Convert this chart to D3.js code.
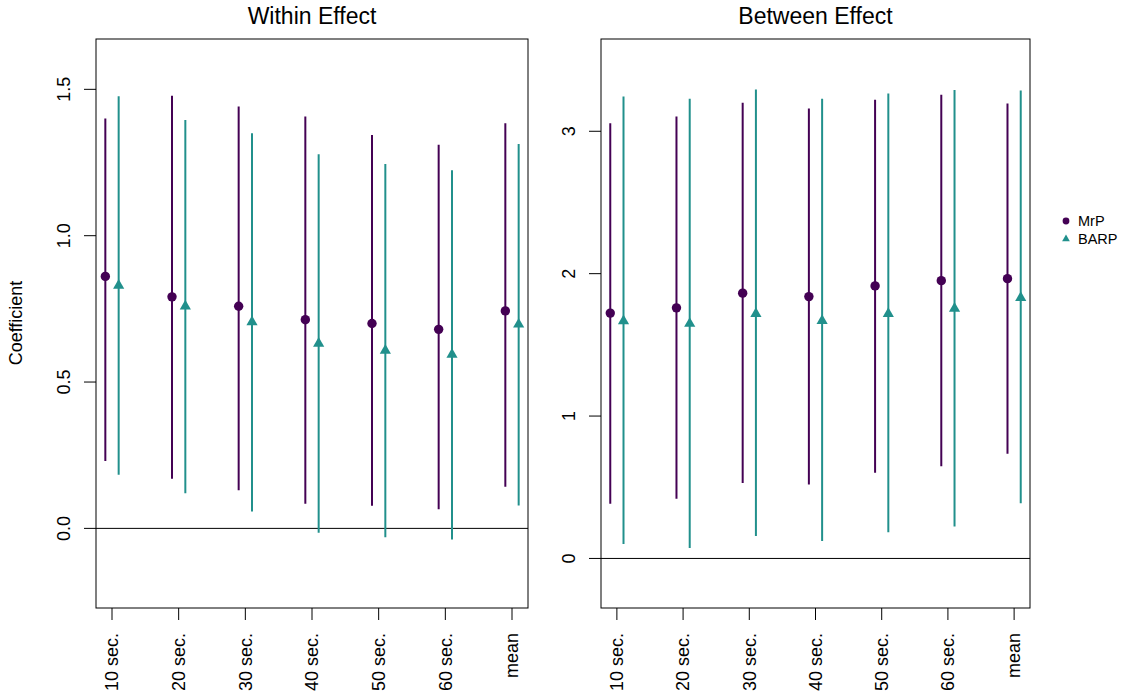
<!DOCTYPE html>
<html>
<head>
<meta charset="UTF-8">
<style>
  body { margin: 0; background: #fff; }
  text { font-family: "Liberation Sans", Arial, Helvetica, sans-serif; fill: #000; }
</style>
</head>
<body>
<svg width="1124" height="697"></svg>
<script src="https://cdn.jsdelivr.net/npm/d3@7"></script>
<script>

var categories = ["10 sec.", "20 sec.", "30 sec.", "40 sec.", "50 sec.", "60 sec.", "mean"];
var seriesNames = ["MrP", "BARP"];
var colors = ["#440154", "#21908C"];

// Within effect
var withinMrP     = [0.861, 0.791, 0.759, 0.713, 0.700, 0.680, 0.743];
var withinMrPLo   = [0.230, 0.170, 0.130, 0.084, 0.077, 0.065, 0.142];
var withinMrPHi   = [1.400, 1.478, 1.441, 1.407, 1.344, 1.311, 1.384];
var withinBARP    = [0.830, 0.759, 0.705, 0.632, 0.608, 0.594, 0.697];
var withinBARPLo  = [0.183, 0.120, 0.058, -0.015, -0.030, -0.038, 0.078];
var withinBARPHi  = [1.476, 1.395, 1.350, 1.278, 1.245, 1.224, 1.313];
var withinTicks   = [0, 0.5, 1, 1.5];

// Between effect
var betweenMrP    = [1.723, 1.760, 1.863, 1.839, 1.914, 1.951, 1.965];
var betweenMrPLo  = [0.385, 0.420, 0.529, 0.520, 0.602, 0.648, 0.735];
var betweenMrPHi  = [3.057, 3.104, 3.200, 3.160, 3.221, 3.256, 3.195];
var betweenBARP   = [1.668, 1.649, 1.719, 1.670, 1.719, 1.755, 1.831];
var betweenBARPLo = [0.102, 0.074, 0.158, 0.123, 0.184, 0.224, 0.387];
var betweenBARPHi = [3.244, 3.228, 3.293, 3.228, 3.265, 3.289, 3.286];
var betweenTicks  = [0, 1, 2, 3];

var svg = d3.select("svg");

function drawPanel(p) {
  var x = d3.scaleLinear().domain([0.76, 7.24]).range([p.left, p.right]);
  var y = d3.scaleLinear().domain(p.ylim).range([p.bottom, p.top]);
  var g = svg.append("g");

  // zero line
  g.append("line")
    .attr("x1", p.left).attr("x2", p.right)
    .attr("y1", y(0)).attr("y2", y(0))
    .attr("stroke", "#000").attr("stroke-width", 1);

  var series = [
    { est: p.mrp, lo: p.mrpLo, hi: p.mrpHi, off: -0.1, color: colors[0], shape: "circle" },
    { est: p.barp, lo: p.barpLo, hi: p.barpHi, off: 0.1, color: colors[1], shape: "triangle" }
  ];

  series.forEach(function(s) {
    var rows = categories.map(function(c, i) {
      return { i: i + 1, est: s.est[i], lo: s.lo[i], hi: s.hi[i] };
    });
    g.selectAll(null).data(rows).enter().append("line")
      .attr("x1", function(d) { return x(d.i + s.off); })
      .attr("x2", function(d) { return x(d.i + s.off); })
      .attr("y1", function(d) { return y(d.lo); })
      .attr("y2", function(d) { return y(d.hi); })
      .attr("stroke", s.color).attr("stroke-width", 2);
    if (s.shape == "circle") {
      g.selectAll(null).data(rows).enter().append("circle")
        .attr("cx", function(d) { return x(d.i + s.off); })
        .attr("cy", function(d) { return y(d.est); })
        .attr("r", 4.7)
        .attr("fill", s.color);
    } else {
      g.selectAll(null).data(rows).enter().append("path")
        .attr("transform", function(d) { return "translate(" + x(d.i + s.off) + "," + y(d.est) + ")"; })
        .attr("d", d3.symbol(d3.symbolTriangle, 54)())
        .attr("fill", s.color);
    }
  });

  // box
  g.append("rect")
    .attr("x", p.left).attr("y", p.top)
    .attr("width", p.right - p.left).attr("height", p.bottom - p.top)
    .attr("fill", "none").attr("stroke", "#000").attr("stroke-width", 1);

  // x axis
  var xa = g.append("g");
  xa.selectAll(null).data(categories).enter().append("line")
    .attr("x1", function(d, i) { return x(i + 1); })
    .attr("x2", function(d, i) { return x(i + 1); })
    .attr("y1", p.bottom).attr("y2", p.bottom + 12)
    .attr("stroke", "#000");
  xa.selectAll(null).data(categories).enter().append("text")
    .attr("transform", function(d, i) { return "translate(" + x(i + 1) + "," + (p.bottom + 25) + ") rotate(-90)"; })
    .attr("text-anchor", "end")
    .attr("dy", "0.35em")
    .style("font-size", "18px")
    .text(function(d) { return d; });

  // y axis
  var ya = g.append("g");
  ya.selectAll(null).data(p.ticks).enter().append("line")
    .attr("x1", p.left - 12).attr("x2", p.left)
    .attr("y1", function(d) { return y(d); })
    .attr("y2", function(d) { return y(d); })
    .attr("stroke", "#000");
  ya.selectAll(null).data(p.ticks).enter().append("text")
    .attr("transform", function(d) { return "translate(" + (p.left - 26) + "," + y(d) + ") rotate(-90)"; })
    .attr("text-anchor", "middle")
    .style("font-size", "18px")
    .text(function(d) { return p.fmt(d); });

  g.append("text")
    .attr("x", (p.left + p.right) / 2)
    .attr("y", 24)
    .attr("text-anchor", "middle")
    .style("font-size", "23px")
    .text(p.title);
}

drawPanel({
  title: "Within Effect", left: 96, right: 528, top: 39, bottom: 608,
  ylim: [-0.272, 1.672], ticks: withinTicks, fmt: d3.format(".1f"),
  mrp: withinMrP, mrpLo: withinMrPLo, mrpHi: withinMrPHi,
  barp: withinBARP, barpLo: withinBARPLo, barpHi: withinBARPHi
});

drawPanel({
  title: "Between Effect", left: 601, right: 1030, top: 39, bottom: 608,
  ylim: [-0.348, 3.648], ticks: betweenTicks, fmt: d3.format("d"),
  mrp: betweenMrP, mrpLo: betweenMrPLo, mrpHi: betweenMrPHi,
  barp: betweenBARP, barpLo: betweenBARPLo, barpHi: betweenBARPHi
});

// y label
svg.append("text")
  .attr("transform", "translate(22,323) rotate(-90)")
  .attr("text-anchor", "middle")
  .style("font-size", "18px")
  .text("Coefficient");

// legend
var leg = svg.append("g").attr("transform", "translate(1066,221)");
leg.append("circle").attr("cx", 0).attr("cy", 0).attr("r", 3.4).attr("fill", colors[0]);
leg.append("path")
  .attr("transform", "translate(0,18)")
  .attr("d", d3.symbol(d3.symbolTriangle, 26)())
  .attr("fill", colors[1]);
leg.selectAll(null).data(seriesNames).enter().append("text")
  .attr("x", 12)
  .attr("y", function(d, i) { return i * 18; })
  .attr("dy", "0.35em")
  .style("font-size", "14.5px")
  .text(function(d) { return d; });

</script>
</body>
</html>
